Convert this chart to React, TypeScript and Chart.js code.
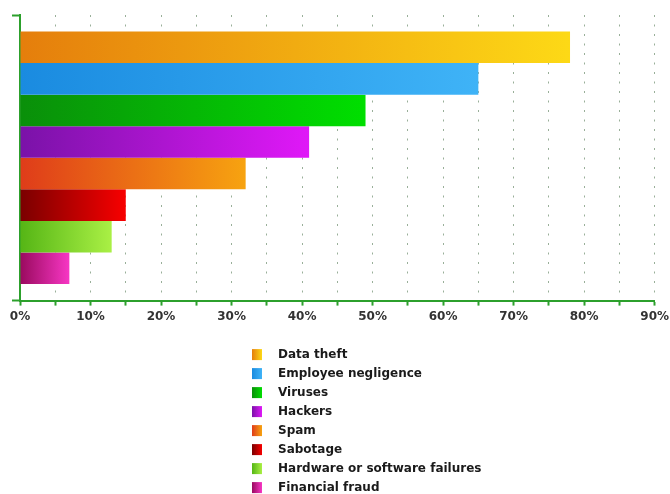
import React, { useEffect, useRef } from "react";
import { Chart, registerables } from "chart.js";

Chart.register(...registerables);

const categories = ["Threats"];
const seriesNames = [
  "Data theft",
  "Employee negligence",
  "Viruses",
  "Hackers",
  "Spam",
  "Sabotage",
  "Hardware or software failures",
  "Financial fraud",
];
const seriesValues = [78, 65, 49, 41, 32, 15, 13, 7];
const gradientStarts = ["#e57e0c", "#1a8be0", "#0a8f0a", "#7a12a8", "#df3c1a", "#7a0000", "#55b515", "#990a5e"];
const gradientEnds = ["#fdd916", "#3fb3f7", "#00df00", "#e018f8", "#f7a310", "#f80000", "#aaf045", "#f736c4"];
const xTickValues = [0, 10, 20, 30, 40, 50, 60, 70, 80, 90];

const AXIS_GREEN = "#2ca02c";
const FONT = "'DejaVu Sans', sans-serif";

const legendPlugin = {
  id: "columnLegend",
  afterDraw(chart: any) {
    const ctx = chart.ctx;
    const x0 = 252;
    const y0 = chart.chartArea.bottom + 54;
    const step = 19;
    ctx.save();
    ctx.font = `bold 12px ${FONT}`;
    ctx.textBaseline = "middle";
    ctx.textAlign = "left";
    chart.data.datasets.forEach((ds: any, i: number) => {
      const cy = y0 + i * step;
      const g = ctx.createLinearGradient(x0, 0, x0 + 10, 0);
      g.addColorStop(0, gradientStarts[i]);
      g.addColorStop(1, gradientEnds[i]);
      ctx.fillStyle = g;
      ctx.fillRect(x0, cy - 5.5, 10, 11);
      ctx.fillStyle = "#1a1a1a";
      ctx.fillText(ds.label, x0 + 26, cy + 0.5);
    });
    ctx.restore();
  },
};

export default function App() {
  const canvasRef = useRef<HTMLCanvasElement | null>(null);

  useEffect(() => {
    const canvas = canvasRef.current;
    if (!canvas) return;
    const datasets = seriesNames.map((name, i) => ({
      label: name,
      data: [seriesValues[i]],
      backgroundColor: (c: any) => {
        const chart = c.chart;
        const xs = chart.scales && chart.scales.x;
        if (!chart.chartArea || !xs || c.raw == null) return gradientStarts[i];
        const x1 = xs.getPixelForValue(0);
        const x2 = xs.getPixelForValue(c.raw);
        const g = chart.ctx.createLinearGradient(x1, 0, Math.max(x2, x1 + 1), 0);
        g.addColorStop(0, gradientStarts[i]);
        g.addColorStop(1, gradientEnds[i]);
        return g;
      },
      borderWidth: 0,
      barPercentage: 1,
      categoryPercentage: 0.884,
    }));

    const chart = new Chart(canvas, {
      type: "bar",
      data: { labels: categories, datasets },
      plugins: [legendPlugin],
      options: {
        indexAxis: "y",
        animation: false,
        responsive: false,
        devicePixelRatio: 1,
        layout: { padding: { left: 12, top: 15, right: 13, bottom: 166 } },
        plugins: {
          legend: { display: false },
          tooltip: { enabled: false },
        },
        scales: {
          x: {
            type: "linear",
            min: 0,
            max: 90,
            afterBuildTicks: (scale: any) => {
              const t: any[] = [];
              for (let v = 0; v <= 90; v += 5) t.push({ value: v });
              scale.ticks = t;
            },
            ticks: {
              autoSkip: false,
              maxRotation: 0,
              padding: 1,
              color: "#333333",
              font: { family: FONT, size: 12, weight: "bold", lineHeight: 1.7 },
              callback: (v: any) => (xTickValues.includes(Number(v)) ? `${v}%` : ""),
            },
            grid: {
              color: "rgba(70,110,70,0.55)",
              lineWidth: 1,
              tickColor: AXIS_GREEN,
              tickWidth: 2,
              tickLength: 5,
              tickBorderDash: [],
            },
            border: { color: AXIS_GREEN, width: 2, dash: [2, 7.5] },
          },
          y: {
            type: "category",
            ticks: { display: false },
            grid: {
              drawOnChartArea: false,
              offset: true,
              tickLength: 8,
              tickWidth: 2,
              tickColor: AXIS_GREEN,
              color: AXIS_GREEN,
            },
            border: { color: AXIS_GREEN, width: 2 },
          },
        },
      } as any,
    });
    return () => chart.destroy();
  }, []);

  return (
    <canvas
      ref={canvasRef}
      width={670}
      height={494}
      style={{ position: "absolute", left: 0, top: 0, width: 670, height: 494 }}
    />
  );
}
